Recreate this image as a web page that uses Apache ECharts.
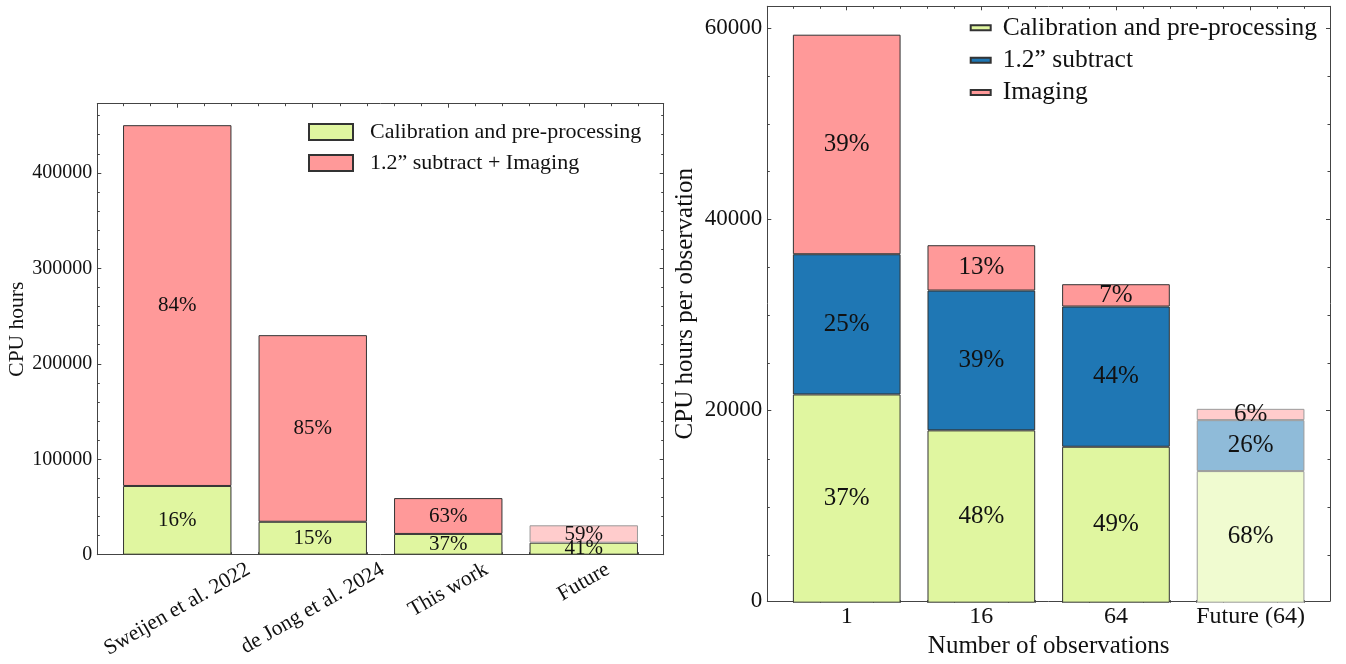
<!DOCTYPE html>
<html>
<head>
<meta charset="utf-8">
<script src="https://cdn.jsdelivr.net/npm/echarts@6/dist/echarts.min.js"></script>
<style>
  html, body { margin: 0; padding: 0; background: #fff; }
  #chart { width: 1346px; height: 664px; }
</style>
</head>
<body>
<div id="chart"></div>
<script>
// Left panel: total CPU hours of each processing run
const leftCategories = ['Sweijen et al. 2022', 'de Jong et al. 2024', 'This work', 'Future'];
const leftCalibration = [72000, 34500, 21740, 12600];
const leftSubtractImaging = [378000, 195500, 37560, 18200];
const leftYTicks = [0, 100000, 200000, 300000, 400000];

// Right panel: CPU hours per observation against number of observations
const rightCategories = ['1', '16', '64', 'Future (64)'];
const rightCalibration = [21740, 17990, 16280, 13740];
const rightSubtract = [14640, 14600, 14640, 5320];
const rightImaging = [22920, 4730, 2330, 1180];
const rightYTicks = [0, 20000, 40000, 60000];

const FONT = '"Liberation Serif", "DejaVu Serif", serif';
const INK = '#111';
const FRAME = '#444';
const EDGE = '#333';
const FADED_EDGE = '#9a9a9a';
const COLOR = { calib: '#e0f6a0', subtract: '#1f77b4', imaging: '#ff9999' };
const FADED = { calib: '#f0fbd0', subtract: '#8fbbd9', imaging: '#ffcccc' };

// Frame boxes of the two panels (pixels)
const BOX = {
  left:  { left: 97.3,  top: 103.7, width: 566.4, height: 451.0 },
  right: { left: 767.3, top: 6.3,   width: 562.7, height: 596.4 }
};

// x range as for 0.8-wide bars with 5% padding on each side
const N = 4;
const X_MIN = -0.4 - 0.05 * (N - 1 + 0.8);
const X_MAX = N - 1 + 0.4 + 0.05 * (N - 1 + 0.8);
const X_MAJOR = leftCategories.map((_, i) => i);
const X_MINOR = [];
for (let k = Math.ceil(X_MIN / 0.2); k <= Math.floor(X_MAX / 0.2); k++) {
  if (k % 5 !== 0) X_MINOR.push(+(k * 0.2).toFixed(2));
}

function sums(...arrs) { return arrs[0].map((_, i) => arrs.reduce((s, a) => s + a[i], 0)); }
const leftTotals = sums(leftCalibration, leftSubtractImaging);
const rightTotals = sums(rightCalibration, rightSubtract, rightImaging);
const leftYMax = 1.05 * Math.max(...leftTotals);
const rightYMax = 1.05 * Math.max(...rightTotals);

function minorTicks(max, step, major) {
  const out = [];
  for (let v = step; v <= max; v += step) if (v % major !== 0) out.push(v);
  return out;
}
const leftYMinor = minorTicks(leftYMax, 20000, 100000);
const rightYMinor = minorTicks(rightYMax, 5000, 20000);

function innerBox(b) {
  const unit = b.width / (X_MAX - X_MIN);
  return { left: b.left + (-0.5 - X_MIN) * unit, top: b.top, width: N * unit, height: b.height };
}

const grids = [
  BOX.left, BOX.left, innerBox(BOX.left),
  BOX.right, BOX.right, innerBox(BOX.right)
];

function tickAxis(gridIndex, position, min, max, values, len, showLine, extra) {
  return Object.assign({
    type: 'value', gridIndex, position, min, max,
    axisLine: { show: showLine, onZero: false, lineStyle: { color: FRAME, width: 1 } },
    splitLine: { show: false },
    axisTick: { show: true, inside: true, length: len, customValues: values, lineStyle: { color: FRAME, width: 1 } },
    axisLabel: { show: false }
  }, extra || {});
}

// Rotated category labels of the left panel, centred under their ticks
const LBL = 21.5;
const measureCtx = document.createElement('canvas').getContext('2d');
measureCtx.font = LBL + 'px "Liberation Serif"';
const lblWidths = leftCategories.map(c => measureCtx.measureText(c).width);
const minW = Math.min(...lblWidths);
const rotRich = {};
leftCategories.forEach((c, i) => {
  const d = (lblWidths[i] - minW) * 0.25;
  rotRich['r' + i] = { fontFamily: FONT, fontSize: LBL, color: INK, padding: [1.732 * d, d, 0, 0] };
});
const rotMargin = 4 + (0.5 * minW + 0.866 * LBL) / 2;

const xAxis = [
  // left panel frame
  tickAxis(0, 'bottom', X_MIN, X_MAX, X_MAJOR, 4, true, {
    axisLabel: {
      show: true, customValues: X_MAJOR, rotate: 30, align: 'center', verticalAlign: 'middle',
      margin: rotMargin, fontFamily: FONT, fontSize: LBL, color: INK,
      formatter: v => { const i = Math.round(v); return '{r' + i + '|' + leftCategories[i] + '}'; },
      rich: rotRich
    }
  }),
  tickAxis(0, 'top', X_MIN, X_MAX, X_MAJOR, 4, true),
  tickAxis(1, 'bottom', X_MIN, X_MAX, X_MINOR, 2.5, false),
  tickAxis(1, 'top', X_MIN, X_MAX, X_MINOR, 2.5, false),
  { type: 'category', gridIndex: 2, data: leftCategories, show: false },
  // right panel frame
  tickAxis(3, 'bottom', X_MIN, X_MAX, X_MAJOR, 4, true, {
    name: 'Number of observations', nameLocation: 'middle', nameGap: 32,
    nameTextStyle: { fontFamily: FONT, fontSize: 25, color: INK },
    axisLabel: {
      show: true, customValues: X_MAJOR, margin: 4, fontFamily: FONT, fontSize: 24, color: INK,
      formatter: v => rightCategories[Math.round(v)]
    }
  }),
  tickAxis(3, 'top', X_MIN, X_MAX, X_MAJOR, 4, true),
  tickAxis(4, 'bottom', X_MIN, X_MAX, X_MINOR, 2.5, false),
  tickAxis(4, 'top', X_MIN, X_MAX, X_MINOR, 2.5, false),
  { type: 'category', gridIndex: 5, data: rightCategories, show: false }
];

const yAxis = [
  tickAxis(0, 'left', 0, leftYMax, leftYTicks, 4, true, {
    name: 'CPU hours', nameLocation: 'middle', nameGap: 69,
    nameTextStyle: { fontFamily: FONT, fontSize: 21.5, color: INK },
    axisLabel: { show: true, customValues: leftYTicks, margin: 5, fontFamily: FONT, fontSize: 20, color: INK, formatter: v => String(v) }
  }),
  tickAxis(0, 'right', 0, leftYMax, leftYTicks, 4, true),
  tickAxis(1, 'left', 0, leftYMax, leftYMinor, 2.5, false),
  tickAxis(1, 'right', 0, leftYMax, leftYMinor, 2.5, false),
  { type: 'value', gridIndex: 2, min: 0, max: leftYMax, show: false },
  tickAxis(3, 'left', 0, rightYMax, rightYTicks, 4, true, {
    name: 'CPU hours per observation', nameLocation: 'middle', nameGap: 69,
    nameTextStyle: { fontFamily: FONT, fontSize: 25, color: INK },
    axisLabel: { show: true, customValues: rightYTicks, margin: 5, fontFamily: FONT, fontSize: 23, color: INK, formatter: v => String(v) }
  }),
  tickAxis(3, 'right', 0, rightYMax, rightYTicks, 4, true),
  tickAxis(4, 'left', 0, rightYMax, rightYMinor, 2.5, false),
  tickAxis(4, 'right', 0, rightYMax, rightYMinor, 2.5, false),
  { type: 'value', gridIndex: 5, min: 0, max: rightYMax, show: false }
];

// The last column is a projection and is drawn in lighter tones
function columnData(values, fadedColor) {
  return values.map((v, i) => (fadedColor && i === values.length - 1)
    ? { value: v, itemStyle: { color: fadedColor, borderColor: FADED_EDGE } }
    : v);
}

function stackedBar(name, values, color, fadedColor, axisIndex, stack, totals, fontSize) {
  return {
    type: 'bar', name, stack, xAxisIndex: axisIndex, yAxisIndex: axisIndex,
    barWidth: '80%',
    data: columnData(values, fadedColor),
    itemStyle: { color, borderColor: EDGE, borderWidth: 1 },
    label: {
      show: true, position: 'inside', fontFamily: FONT, fontSize, color: INK,
      formatter: p => Math.round(100 * p.value / totals[p.dataIndex]) + '%'
    },
    emphasis: { disabled: true }
  };
}

const series = [
  stackedBar('Calibration and pre-processing', leftCalibration, COLOR.calib, null, 4, 'left', leftTotals, 21),
  stackedBar('1.2\u201D subtract + Imaging', leftSubtractImaging, COLOR.imaging, FADED.imaging, 4, 'left', leftTotals, 21),
  stackedBar('Calibration and pre-processing', rightCalibration, COLOR.calib, FADED.calib, 9, 'right', rightTotals, 25),
  stackedBar('1.2\u201D subtract', rightSubtract, COLOR.subtract, FADED.subtract, 9, 'right', rightTotals, 25),
  stackedBar('Imaging', rightImaging, COLOR.imaging, FADED.imaging, 9, 'right', rightTotals, 25)
];

const legend = [
  {
    left: 308, top: 121, orient: 'vertical', icon: 'rect', padding: 0,
    itemWidth: 44, itemHeight: 16, itemGap: 9, selectedMode: false,
    data: ['Calibration and pre-processing', '1.2\u201D subtract + Imaging'],
    textStyle: { fontFamily: FONT, fontSize: 22, lineHeight: 22, color: INK, padding: [0, 0, 0, 12] }
  },
  {
    left: 969.7, top: 14.8, orient: 'vertical', icon: 'rect', padding: 0,
    itemWidth: 20, itemHeight: 5, itemGap: 6.4, selectedMode: false,
    data: ['Calibration and pre-processing', '1.2\u201D subtract', 'Imaging'],
    textStyle: { fontFamily: FONT, fontSize: 25.5, lineHeight: 25, color: INK, padding: [0, 0, 0, 7] }
  }
];

const chart = echarts.init(document.getElementById('chart'), null, { renderer: 'canvas' });
chart.setOption({
  animation: false,
  backgroundColor: '#fff',
  textStyle: { fontFamily: FONT, color: INK },
  grid: grids.map(g => ({ left: g.left, top: g.top, width: g.width, height: g.height, containLabel: false })),
  xAxis, yAxis, series, legend
});
</script>
</body>
</html>
